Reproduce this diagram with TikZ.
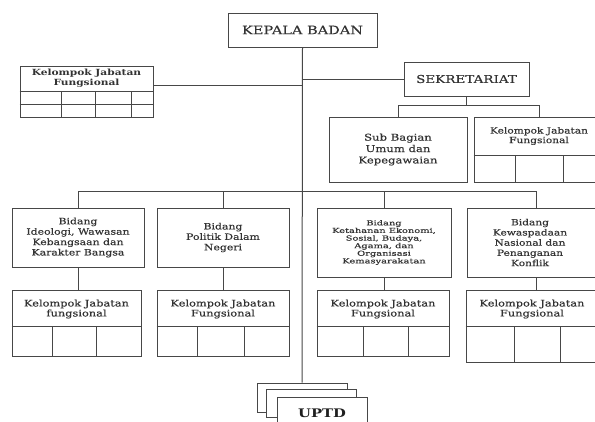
\documentclass[tikz,border=0pt]{standalone}
\usepackage{fontspec}
\setmainfont{DejaVu Serif}[FakeStretch=1.25,UprightFeatures={FakeBold=0.4}]
\newfontfamily\widef{DejaVu Serif}[FakeStretch=1.45,FakeBold=0.4]
\usetikzlibrary{calc,backgrounds}
\tikzset{
  ln/.style={line width=1pt, draw=black!72},
  bx/.style={ln, rectangle, inner sep=0pt, fill=white, text=black!80, align=center},
  txt/.style={inner sep=0pt, text=black!80, align=center},
}
\newcommand{\mkbox}[7]{\node[bx, minimum width={(#4-#2)*1pt}, minimum height={(#5-#3)*1pt}, #6] (#1) at ({(#2+#4)/2},{(#3+#5)/2}) {#7};}
\newcommand{\mkgrid}[3]{%
  \draw[ln] (#1.west |- 0,#2) -- (#1.east |- 0,#2);
  \foreach \cx in {#3} {\draw[ln] (\cx,#2) -- (#1.south -| \cx,0);}
}
\begin{document}
\begin{tikzpicture}[x=1pt,y=-1pt]
\useasboundingbox (0,0) rectangle (595,421);
\clip (0,0) rectangle (595,421);

% top
\mkbox{kepala}{228}{13}{377}{47}{font={\fontsize{11.6}{13}\selectfont}}{KEPALA BADAN}
\mkbox{sekr}{404}{62}{529}{96}{font={\fontsize{10.8}{12}\selectfont}}{SEKRETARIAT}

% top-left kelompok
\mkbox{kjft}{20}{66}{153}{117}{}{}
\node[txt, font={\bfseries\fontsize{8.5}{9.6}\selectfont}] (kjftt) at (86.5,78.5) {Kelompok Jabatan\\Fungsional};
\mkgrid{kjft}{91}{61,95,131}
\draw[ln] (kjft.west |- 0,104) -- (kjft.east |- 0,104);

% sekretariat children
\mkbox{sub}{329}{117}{467}{182}{font={\fontsize{9.3}{11.4}\selectfont}}{Sub Bagian\\Umum dan\\Kepegawaian}
\mkbox{kjfr}{474}{117}{604}{182}{}{}
\node[txt, font={\fontsize{8.5}{9.6}\selectfont}] (kjfrt) at (539,136) {Kelompok Jabatan\\Fungsional};
\mkgrid{kjfr}{155}{515,563}

% bidang
\mkbox{b1}{12}{208}{144}{267}{font={\fontsize{8.7}{10.4}\selectfont}}{Bidang\\Ideologi, Wawasan\\Kebangsaan dan\\Karakter Bangsa}
\mkbox{b2}{157}{208}{289}{267}{font={\fontsize{8.7}{10.4}\selectfont}}{Bidang\\Politik Dalam\\Negeri}
\mkbox{b3}{317}{208}{451}{277}{font={\widef\fontsize{6.8}{7.6}\selectfont}}{Bidang\\Ketahanan Ekonomi,\\Sosial, Budaya,\\Agama, dan\\Organisasi\\Kemasyarakatan}
\mkbox{b4}{467}{208}{605}{277}{}{}
\node[txt, font={\fontsize{8.5}{10.2}\selectfont}] (b4t) at (530,242.5) {Bidang\\Kewaspadaan\\Nasional dan\\Penanganan\\Konflik};

% lower kelompok
\mkbox{k1}{12}{290}{141}{356}{}{}
\node[txt, font={\fontsize{9.1}{10}\selectfont}] (k1t) at (76.5,309) {Kelompok Jabatan\\fungsional};
\mkgrid{k1}{326}{52,96}
\mkbox{k2}{157}{290}{289}{356}{}{}
\node[txt, font={\fontsize{9.1}{10}\selectfont}] (k2t) at (223,309) {Kelompok Jabatan\\Fungsional};
\mkgrid{k2}{326}{197,244}
\mkbox{k3}{317}{290}{449}{356}{}{}
\node[txt, font={\fontsize{9.1}{10}\selectfont}] (k3t) at (383,309) {Kelompok Jabatan\\Fungsional};
\mkgrid{k3}{326}{363,408}
\mkbox{k4}{466}{290}{605}{362}{}{}
\node[txt, font={\fontsize{9.1}{10}\selectfont}] (k4t) at (532,309) {Kelompok Jabatan\\Fungsional};
\mkgrid{k4}{326}{514,560}

% UPTD stack
\mkbox{u1}{257}{383}{347}{412}{}{}
\mkbox{u2}{266}{389}{356}{417}{}{}
\mkbox{u3}{277}{397}{367}{430}{font={\bfseries\fontsize{11.8}{13}\selectfont}, text=black!88}{UPTD}

% connectors
\begin{scope}[on background layer]
\fill[white] (0,0) rectangle (595,421);
\draw[ln] (kepala.south) -- (u1.north);
\draw[ln] (kjft.east |- 0,85) -- (kepala.south |- 0,85);
\draw[ln] (sekr.west) -- (sekr.west -| kepala.south);
\coordinate (sy) at (0,105);
\draw[ln] (sekr.south) -- (sekr.south |- sy);
\draw[ln] (sub.north) -- (sub.north |- sy) -- (kjfr.north |- sy) -- (kjfr.north);
\coordinate (by) at (0,191);
\draw[ln] (b1.north) -- (b1.north |- by) -- (b4.north |- by) -- (b4.north);
\draw[ln] (b2.north) -- (b2.north |- by);
\draw[ln] (b3.north) -- (b3.north |- by);
\draw[ln] (b1.south) -- (b1.south |- k1.north);
\draw[ln] (b2.south) -- (b2.south |- k2.north);
\draw[ln] (b3.south) -- (b3.south |- k3.north);
\draw[ln] (b4.south) -- (b4.south |- k4.north);
\end{scope}
\end{tikzpicture}
\end{document}
